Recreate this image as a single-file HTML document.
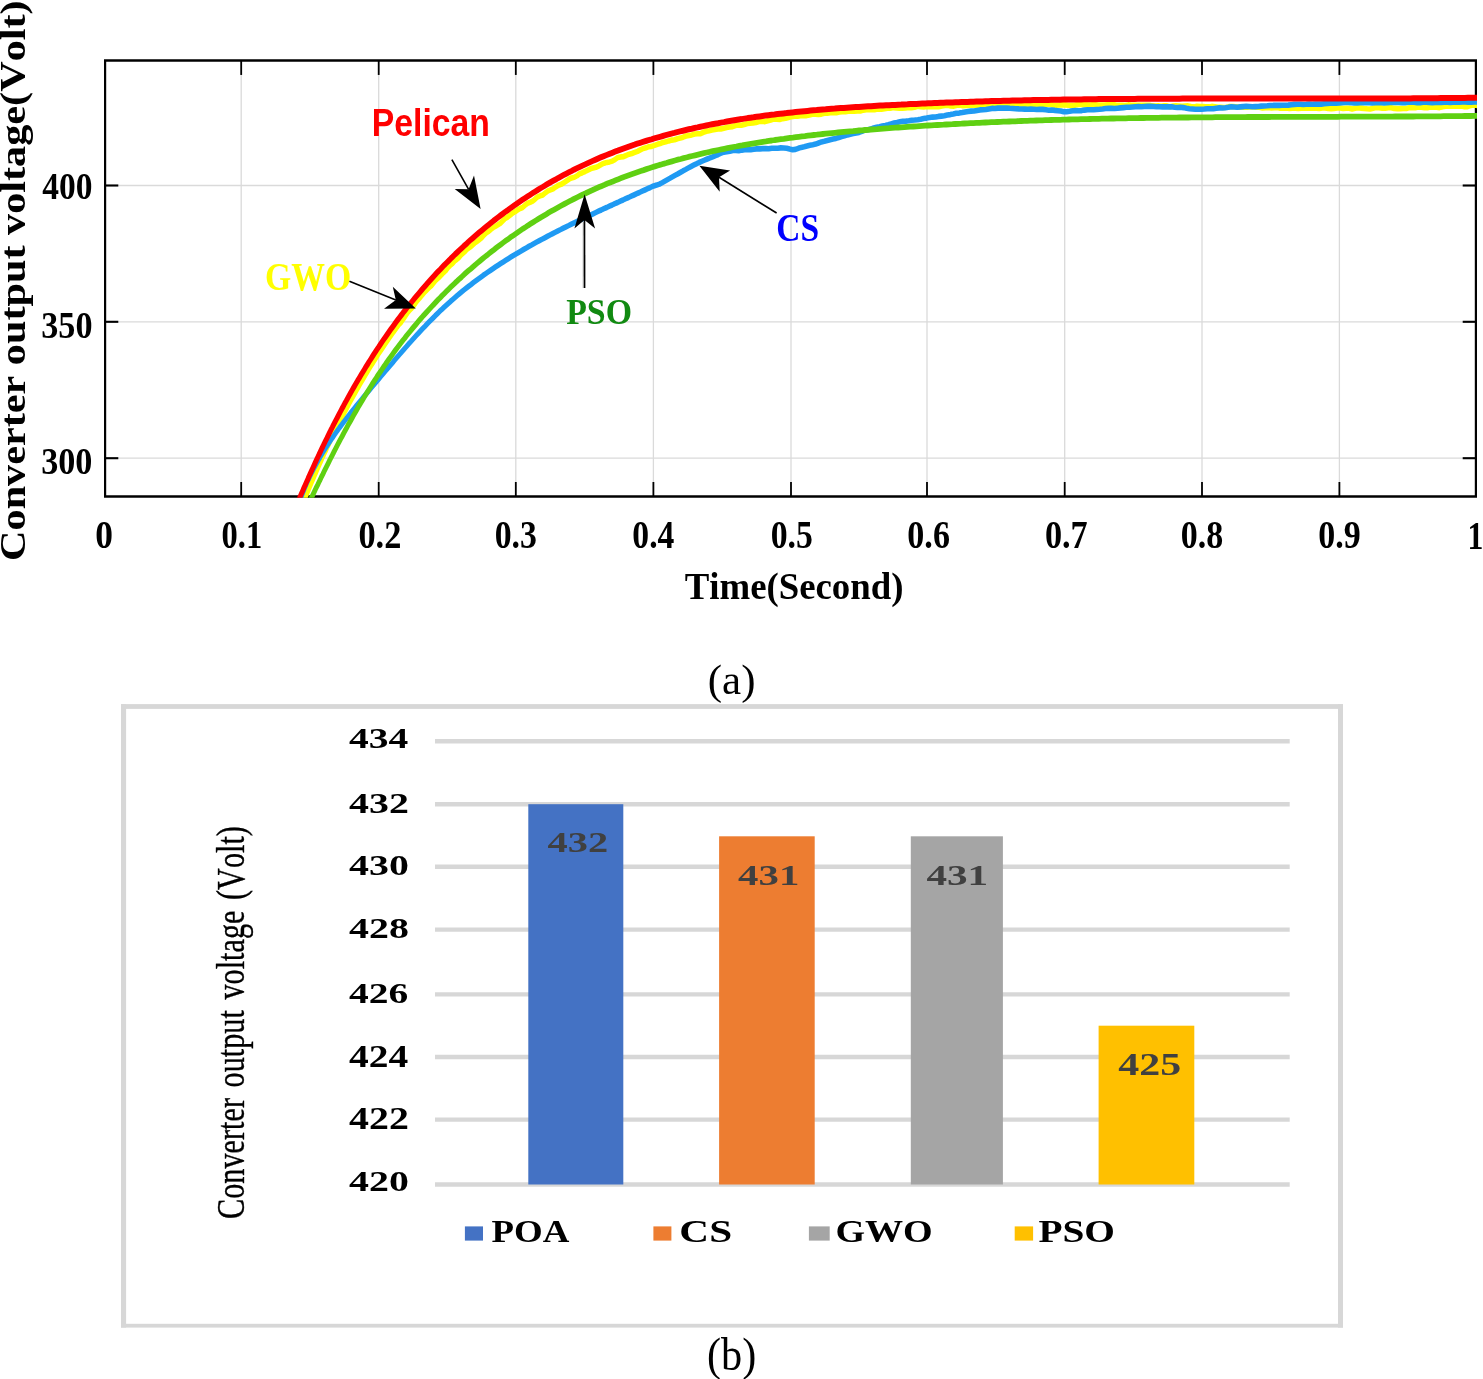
<!DOCTYPE html>
<html><head><meta charset="utf-8"><title>Figure</title>
<style>
html,body{margin:0;padding:0;background:#fff;}
body{width:1483px;height:1379px;overflow:hidden;font-family:"Liberation Serif",serif;}
svg{display:block;will-change:transform;}
text{white-space:pre;font-kerning:none;}
</style></head><body>
<svg width="1483" height="1379" viewBox="0 0 1483 1379">
<defs><clipPath id="clipA"><rect x="104.0" y="59.150000000000006" width="1373.0000000000002" height="438.65000000000003"/></clipPath></defs>
<rect x="0" y="0" width="1483" height="1379" fill="#fff"/>
<line x1="241.20" y1="60.45" x2="241.20" y2="496.50" stroke="#dadada" stroke-width="1.3"/>
<line x1="378.70" y1="60.45" x2="378.70" y2="496.50" stroke="#dadada" stroke-width="1.3"/>
<line x1="515.80" y1="60.45" x2="515.80" y2="496.50" stroke="#dadada" stroke-width="1.3"/>
<line x1="653.40" y1="60.45" x2="653.40" y2="496.50" stroke="#dadada" stroke-width="1.3"/>
<line x1="791.00" y1="60.45" x2="791.00" y2="496.50" stroke="#dadada" stroke-width="1.3"/>
<line x1="927.00" y1="60.45" x2="927.00" y2="496.50" stroke="#dadada" stroke-width="1.3"/>
<line x1="1064.70" y1="60.45" x2="1064.70" y2="496.50" stroke="#dadada" stroke-width="1.3"/>
<line x1="1202.00" y1="60.45" x2="1202.00" y2="496.50" stroke="#dadada" stroke-width="1.3"/>
<line x1="1339.40" y1="60.45" x2="1339.40" y2="496.50" stroke="#dadada" stroke-width="1.3"/>
<line x1="105.10" y1="185.50" x2="1475.90" y2="185.50" stroke="#dadada" stroke-width="1.3"/>
<line x1="105.10" y1="321.80" x2="1475.90" y2="321.80" stroke="#dadada" stroke-width="1.3"/>
<line x1="105.10" y1="458.20" x2="1475.90" y2="458.20" stroke="#dadada" stroke-width="1.3"/>
<line x1="104.00" y1="60.45" x2="1477.00" y2="60.45" stroke="#000" stroke-width="2.6"/>
<line x1="104.00" y1="496.50" x2="1477.00" y2="496.50" stroke="#000" stroke-width="2.6"/>
<line x1="105.10" y1="60.45" x2="105.10" y2="496.50" stroke="#000" stroke-width="2.2"/>
<line x1="1475.90" y1="60.45" x2="1475.90" y2="496.50" stroke="#000" stroke-width="2.2"/>
<line x1="241.20" y1="496.50" x2="241.20" y2="482.00" stroke="#000" stroke-width="1.8"/>
<line x1="241.20" y1="60.45" x2="241.20" y2="74.95" stroke="#000" stroke-width="1.8"/>
<line x1="378.70" y1="496.50" x2="378.70" y2="482.00" stroke="#000" stroke-width="1.8"/>
<line x1="378.70" y1="60.45" x2="378.70" y2="74.95" stroke="#000" stroke-width="1.8"/>
<line x1="515.80" y1="496.50" x2="515.80" y2="482.00" stroke="#000" stroke-width="1.8"/>
<line x1="515.80" y1="60.45" x2="515.80" y2="74.95" stroke="#000" stroke-width="1.8"/>
<line x1="653.40" y1="496.50" x2="653.40" y2="482.00" stroke="#000" stroke-width="1.8"/>
<line x1="653.40" y1="60.45" x2="653.40" y2="74.95" stroke="#000" stroke-width="1.8"/>
<line x1="791.00" y1="496.50" x2="791.00" y2="482.00" stroke="#000" stroke-width="1.8"/>
<line x1="791.00" y1="60.45" x2="791.00" y2="74.95" stroke="#000" stroke-width="1.8"/>
<line x1="927.00" y1="496.50" x2="927.00" y2="482.00" stroke="#000" stroke-width="1.8"/>
<line x1="927.00" y1="60.45" x2="927.00" y2="74.95" stroke="#000" stroke-width="1.8"/>
<line x1="1064.70" y1="496.50" x2="1064.70" y2="482.00" stroke="#000" stroke-width="1.8"/>
<line x1="1064.70" y1="60.45" x2="1064.70" y2="74.95" stroke="#000" stroke-width="1.8"/>
<line x1="1202.00" y1="496.50" x2="1202.00" y2="482.00" stroke="#000" stroke-width="1.8"/>
<line x1="1202.00" y1="60.45" x2="1202.00" y2="74.95" stroke="#000" stroke-width="1.8"/>
<line x1="1339.40" y1="496.50" x2="1339.40" y2="482.00" stroke="#000" stroke-width="1.8"/>
<line x1="1339.40" y1="60.45" x2="1339.40" y2="74.95" stroke="#000" stroke-width="1.8"/>
<line x1="105.10" y1="185.50" x2="118.30" y2="185.50" stroke="#000" stroke-width="2.1"/>
<line x1="1475.90" y1="185.50" x2="1462.70" y2="185.50" stroke="#000" stroke-width="2.1"/>
<line x1="105.10" y1="321.80" x2="118.30" y2="321.80" stroke="#000" stroke-width="2.1"/>
<line x1="1475.90" y1="321.80" x2="1462.70" y2="321.80" stroke="#000" stroke-width="2.1"/>
<line x1="105.10" y1="458.20" x2="118.30" y2="458.20" stroke="#000" stroke-width="2.1"/>
<line x1="1475.90" y1="458.20" x2="1462.70" y2="458.20" stroke="#000" stroke-width="2.1"/>
<g clip-path="url(#clipA)">
<polyline transform="scale(0.82,1)" points="370.6,500.9 371.9,498.2 373.3,495.4 374.7,492.7 376.1,490.0 377.5,487.3 378.9,484.5 380.3,481.8 381.7,479.1 383.1,476.4 384.6,473.7 386.0,470.9 387.5,468.2 389.0,465.5 390.4,462.8 391.9,460.1 393.4,457.3 394.9,454.6 396.5,451.9 398.0,449.2 399.5,446.5 401.1,443.8 402.7,441.1 404.2,438.4 405.8,435.7 407.4,433.0 409.0,430.3 410.7,427.6 412.3,425.0 413.9,422.3 415.6,419.6 417.3,416.9 419.0,414.3 420.6,411.6 422.4,408.9 424.1,406.3 425.8,403.6 427.5,401.0 429.3,398.4 431.1,395.7 432.9,393.1 434.6,390.5 436.5,387.9 438.3,385.2 440.1,382.6 442.0,380.0 443.8,377.5 445.7,374.9 447.6,372.3 449.5,369.7 451.4,367.1 453.4,364.6 455.3,362.0 457.3,359.5 459.2,357.0 461.2,354.4 463.2,351.9 465.3,349.4 467.3,346.9 469.3,344.4 471.4,341.9 473.5,339.4 475.6,337.0 477.7,334.5 479.8,332.0 482.0,329.6 484.2,327.2 486.3,324.7 488.5,323.1 490.7,320.2 493.0,317.8 495.2,315.1 497.5,312.3 499.7,310.2 502.0,308.3 504.4,305.9 506.7,303.1 509.0,300.6 511.4,298.5 513.8,296.1 516.2,293.7 518.6,291.5 521.0,289.5 523.5,287.6 526.0,285.7 528.4,283.2 530.9,280.7 533.5,278.8 536.0,277.0 538.6,274.7 541.1,272.5 543.7,270.5 546.3,267.7 548.9,265.5 551.6,263.7 554.2,261.2 556.9,259.6 559.5,257.7 562.2,255.1 564.9,253.0 567.7,250.9 570.4,248.6 573.2,247.3 575.9,245.4 578.7,243.2 581.5,241.5 584.3,239.8 587.2,237.9 590.0,235.2 592.8,233.0 595.7,231.6 598.6,229.4 601.5,227.6 604.4,226.2 607.3,224.7 610.2,223.2 613.2,220.8 616.2,218.3 619.1,217.1 622.1,215.2 625.1,213.1 628.1,211.8 631.1,210.1 634.2,208.6 637.2,207.5 640.3,205.2 643.3,203.3 646.4,202.4 649.5,201.2 652.6,199.1 655.7,196.8 658.8,195.8 662.0,195.0 665.1,192.8 668.3,190.9 671.4,189.9 674.6,188.8 677.8,186.9 681.0,185.3 684.2,184.4 687.4,182.9 690.7,181.0 693.9,179.2 697.1,177.9 700.4,177.3 703.7,175.8 706.9,173.7 710.2,172.7 713.5,171.5 716.8,170.1 720.1,168.8 723.4,167.9 726.7,167.3 730.1,166.1 733.4,164.4 736.8,163.2 740.1,162.4 743.5,161.9 746.8,161.1 750.2,159.4 753.6,157.4 757.0,156.9 760.4,156.7 763.8,155.3 767.2,154.2 770.6,153.5 774.1,152.4 777.5,151.4 780.9,149.9 784.4,148.5 787.8,147.8 791.3,146.7 794.7,146.4 798.2,145.4 801.7,144.3 805.1,143.5 808.6,142.4 812.1,141.8 815.6,140.9 819.1,140.1 822.6,139.7 826.1,138.7 829.6,138.1 833.1,137.2 836.6,136.0 840.2,135.4 843.7,134.9 847.2,134.0 850.7,133.8 854.3,133.7 857.8,132.3 861.4,131.2 864.9,130.7 868.4,130.1 872.0,129.5 875.6,129.0 879.1,128.9 882.7,128.2 886.2,127.4 889.8,127.0 893.4,126.6 896.9,125.5 900.5,125.0 904.1,125.3 907.7,124.6 911.3,123.5 914.9,123.1 918.4,123.0 922.0,122.5 925.6,121.5 929.2,121.3 932.8,121.6 936.4,120.7 940.0,119.9 943.7,119.1 947.3,119.1 950.9,119.4 954.5,118.6 958.1,118.2 961.7,117.4 965.4,116.6 969.0,116.3 972.6,116.2 976.2,115.7 979.9,115.6 983.5,115.6 987.1,114.9 990.8,114.3 994.4,114.2 998.1,114.5 1001.7,114.1 1005.3,113.3 1009.0,113.2 1012.6,112.8 1016.3,112.6 1019.9,112.7 1023.6,111.9 1027.2,111.6 1030.9,111.7 1034.6,111.2 1038.2,111.2 1041.9,111.1 1045.5,110.9 1049.2,111.0 1052.9,110.1 1056.5,109.7 1060.2,109.7 1063.9,109.6 1067.5,109.6 1071.2,109.1 1074.9,109.2 1078.6,108.7 1082.2,108.2 1085.9,108.3 1089.6,107.6 1093.3,107.9 1096.9,108.2 1100.6,108.1 1104.3,108.0 1108.0,107.4 1111.7,107.6 1115.3,107.2 1119.0,106.3 1122.7,106.7 1126.4,106.9 1130.1,106.4 1133.7,106.7 1137.4,106.6 1141.1,106.5 1144.8,106.7 1148.5,106.1 1152.2,105.4 1155.9,105.3 1159.5,106.0 1163.2,106.1 1166.9,105.2 1170.6,105.1 1174.3,105.7 1178.0,105.5 1181.6,105.3 1185.3,105.2 1189.0,105.3 1192.7,105.6 1196.4,104.7 1200.1,105.0 1203.8,105.3 1207.4,105.0 1211.1,105.1 1214.8,104.5 1218.5,104.1 1222.2,104.1 1225.9,104.1 1229.5,104.0 1233.2,103.9 1236.9,104.7 1240.6,104.7 1244.2,104.3 1247.9,104.3 1251.6,104.0 1255.3,104.6 1259.0,105.2 1262.6,105.0 1266.3,104.1 1270.0,104.6 1273.6,104.6 1277.3,104.1 1281.0,104.5 1284.6,105.0 1288.3,105.3 1292.0,105.0 1295.6,104.6 1299.3,104.9 1303.0,105.3 1306.6,105.4 1310.3,105.2 1313.9,104.6 1317.6,104.2 1321.3,104.6 1324.9,104.8 1328.6,105.1 1332.2,104.9 1335.9,104.8 1339.5,105.0 1343.2,105.1 1346.8,105.0 1350.5,104.7 1354.1,104.7 1357.8,104.5 1361.4,105.3 1365.1,105.4 1368.7,105.4 1372.3,105.6 1376.0,104.9 1379.6,105.2 1383.3,105.2 1386.9,105.3 1390.6,105.3 1394.2,105.2 1397.8,105.4 1401.5,105.2 1405.1,105.9 1408.8,106.1 1412.4,105.9 1416.0,106.2 1419.7,105.7 1423.3,105.9 1426.9,106.7 1430.6,106.1 1434.2,105.8 1437.9,106.0 1441.5,106.2 1445.1,106.0 1448.8,105.9 1452.4,106.6 1456.0,106.9 1459.7,106.3 1463.3,106.5 1466.9,106.6 1470.6,106.7 1474.2,106.9 1477.8,106.4 1481.5,106.7 1485.1,107.3 1488.7,107.3 1492.4,107.5 1496.0,107.2 1499.6,106.6 1503.3,106.5 1506.9,106.8 1510.5,107.1 1514.2,107.0 1517.8,107.1 1521.4,107.1 1525.1,106.7 1528.7,106.9 1532.4,107.2 1536.0,107.2 1539.6,107.9 1543.3,107.7 1546.9,107.5 1550.5,107.9 1554.2,107.6 1557.8,107.5 1561.5,108.2 1565.1,108.1 1568.7,107.9 1572.4,108.4 1576.0,108.1 1579.7,108.2 1583.3,108.5 1586.9,108.1 1590.6,108.2 1594.2,108.2 1597.9,108.2 1601.5,108.1 1605.2,108.3 1608.8,108.5 1612.5,107.9 1616.1,107.9 1619.8,108.5 1623.4,108.8 1627.1,108.4 1630.7,108.0 1634.4,107.9 1638.0,108.5 1641.7,108.3 1645.3,108.2 1649.0,108.9 1652.6,108.3 1656.3,107.8 1660.0,108.1 1663.6,108.5 1667.3,108.8 1670.9,109.0 1674.6,108.3 1678.3,107.6 1681.9,107.8 1685.6,108.1 1689.3,108.2 1692.9,107.7 1696.6,107.7 1700.3,108.4 1704.0,108.6 1707.6,108.6 1711.3,108.5 1715.0,108.5 1718.7,107.6 1722.3,107.6 1726.0,107.7 1729.7,107.1 1733.4,107.2 1737.1,107.7 1740.8,107.8 1744.5,107.1 1748.1,106.9 1751.8,107.3 1755.5,107.6 1759.2,106.8 1762.9,106.2 1766.6,106.3 1770.3,106.2 1774.0,106.3 1777.7,106.2 1781.4,106.1 1785.1,106.6 1788.9,106.7 1792.6,105.8 1796.3,105.1 1800.0,105.3 1802.9,105.6" fill="none" stroke="#ffff00" stroke-width="5.6" stroke-linejoin="round"/>
<polyline transform="scale(0.82,1)" points="365.6,501.0 366.8,498.2 368.1,495.4 369.4,492.6 370.7,489.8 372.1,487.0 373.5,484.2 375.0,481.5 376.5,478.8 378.1,476.0 379.7,473.4 381.3,470.7 383.0,468.0 384.7,465.4 386.5,462.7 388.2,460.1 390.1,457.5 391.9,454.9 393.8,452.4 395.7,449.8 397.7,447.3 399.7,444.7 401.7,442.2 403.7,439.7 405.8,437.3 407.9,434.8 410.0,432.3 412.1,429.9 414.2,427.5 416.4,425.1 418.6,422.7 420.8,420.3 423.0,417.9 425.3,415.5 427.5,413.1 429.8,410.8 432.1,408.4 434.4,406.1 436.7,403.8 439.0,401.5 441.3,399.1 443.6,396.8 446.0,394.5 448.3,392.2 450.7,389.9 453.0,387.6 455.4,385.3 457.7,383.0 460.1,380.7 462.4,378.4 464.8,376.1 467.2,373.8 469.5,371.5 471.9,369.3 474.2,367.0 476.6,364.7 479.0,362.4 481.3,360.1 483.7,357.8 486.1,355.5 488.5,353.3 490.9,351.0 493.3,348.7 495.7,346.5 498.1,344.2 500.6,342.0 503.0,339.8 505.5,337.5 507.9,335.3 510.4,333.1 512.9,330.9 515.4,328.7 517.9,326.6 520.4,324.4 523.0,322.2 525.5,320.1 528.1,318.0 530.7,315.8 533.3,313.7 535.9,311.6 538.6,309.6 541.2,307.5 543.9,305.5 546.6,303.5 549.4,301.4 552.1,299.5 554.9,297.5 557.6,295.5 560.4,293.6 563.3,291.7 566.1,289.8 569.0,287.9 571.8,286.1 574.7,284.3 577.6,282.4 580.6,280.6 583.5,278.9 586.5,277.1 589.4,275.3 592.4,273.6 595.4,271.9 598.4,270.2 601.5,268.5 604.5,266.8 607.5,265.2 610.6,263.5 613.7,261.9 616.8,260.3 619.9,258.7 623.0,257.1 626.1,255.5 629.2,254.0 632.4,252.4 635.5,250.9 638.7,249.4 641.8,247.9 645.0,246.4 648.2,245.0 651.4,243.5 654.6,242.0 657.8,240.6 661.0,239.2 664.3,237.8 667.5,236.4 670.7,235.0 674.0,233.6 677.2,232.2 680.5,230.8 683.8,229.5 687.0,228.1 690.3,226.8 693.6,225.5 696.9,224.1 700.2,222.8 703.4,221.5 706.7,220.2 710.0,218.9 713.3,217.6 716.6,216.3 720.0,215.1 723.3,213.8 726.6,212.5 729.9,211.2 733.2,210.0 736.5,208.7 739.9,207.5 743.2,206.2 746.5,205.0 749.8,203.7 753.2,202.5 756.5,201.2 759.8,200.0 763.1,198.7 766.5,197.5 769.8,196.2 773.1,195.0 776.5,193.7 779.8,192.5 783.1,191.2 786.4,190.0 789.8,188.7 793.1,187.5 796.4,186.2 797.3,185.9 800.8,185.1 804.2,184.1 807.4,182.7 810.6,181.2 813.8,179.7 817.0,178.3 820.2,176.8 823.4,175.3 826.6,173.9 829.8,172.4 832.9,170.9 836.1,169.5 839.3,168.0 842.5,166.6 845.8,165.2 849.1,163.9 852.4,162.5 855.7,161.3 859.1,160.2 862.5,159.0 865.9,157.9 869.2,156.8 872.6,155.6 876.0,154.5 879.4,153.2 882.8,152.1 886.4,151.8 890.1,151.3 893.7,150.5 897.3,150.5 900.9,150.7 904.6,150.1 908.2,149.7 911.9,149.8 915.5,149.7 919.2,149.2 922.8,148.9 926.5,148.9 930.1,148.6 933.8,148.6 937.5,148.8 941.1,148.3 944.8,148.3 948.4,148.2 952.1,147.9 955.7,148.0 959.4,148.2 962.9,149.0 966.5,149.7 970.1,149.4 973.6,148.3 977.1,147.4 980.7,146.8 984.2,146.0 987.7,145.2 991.2,144.7 994.7,144.1 998.3,143.0 1001.8,141.9 1005.3,141.3 1008.9,140.5 1012.4,139.7 1015.9,139.0 1019.5,138.4 1023.0,137.5 1026.5,136.5 1030.1,135.8 1033.6,134.9 1037.1,134.2 1040.7,133.6 1044.2,133.0 1047.7,132.4 1051.3,131.3 1054.8,130.2 1058.3,129.7 1061.9,129.1 1065.4,128.0 1068.9,127.3 1072.5,126.7 1076.0,126.0 1079.6,125.4 1083.1,124.7 1086.6,123.9 1090.2,123.1 1093.8,122.5 1097.4,121.8 1101.0,121.3 1104.7,121.1 1108.3,120.8 1111.9,120.2 1115.5,120.0 1119.2,119.7 1122.8,119.3 1126.4,118.5 1130.0,118.1 1133.7,117.6 1137.3,117.1 1140.9,117.0 1144.5,116.4 1148.1,116.1 1151.7,115.8 1155.3,115.0 1158.9,114.6 1162.5,114.0 1166.1,113.2 1169.7,113.1 1173.4,112.6 1177.0,112.0 1180.6,111.5 1184.2,111.1 1187.9,111.0 1191.5,110.4 1195.1,109.9 1198.7,109.7 1202.4,109.5 1206.0,108.9 1209.6,108.4 1213.3,108.5 1216.9,108.1 1220.6,108.1 1224.2,108.1 1227.9,108.0 1231.5,108.3 1235.2,108.5 1238.8,108.7 1242.5,108.9 1246.1,109.0 1249.8,109.1 1253.5,109.3 1257.1,109.1 1260.8,109.3 1264.4,109.5 1268.1,109.4 1271.7,109.4 1275.4,109.8 1279.0,110.2 1282.7,110.0 1286.3,110.4 1289.9,110.7 1293.6,111.0 1297.2,111.7 1300.8,111.7 1304.5,111.3 1308.1,110.7 1311.8,110.6 1315.4,110.8 1319.1,110.6 1322.7,110.1 1326.4,109.8 1330.0,109.8 1333.7,109.8 1337.3,109.5 1341.0,109.3 1344.6,109.0 1348.3,108.5 1351.9,108.3 1355.6,108.4 1359.2,108.5 1362.9,108.2 1366.5,107.9 1370.2,107.6 1373.8,107.3 1377.5,107.3 1381.1,107.0 1384.8,106.7 1388.4,106.6 1392.1,106.7 1395.7,106.5 1399.4,106.4 1403.0,106.3 1406.7,106.5 1410.4,106.7 1414.0,106.8 1417.7,106.9 1421.3,106.9 1425.0,106.9 1428.6,106.8 1432.3,107.3 1435.9,107.5 1439.6,107.2 1443.2,107.6 1446.9,108.3 1450.5,108.7 1454.2,109.0 1457.8,109.3 1461.5,109.3 1465.1,109.2 1468.7,109.0 1472.4,108.7 1476.0,108.8 1479.7,108.8 1483.3,108.2 1487.0,107.9 1490.6,108.0 1494.3,107.7 1497.9,107.3 1501.6,106.8 1505.2,107.0 1508.9,107.2 1512.5,106.9 1516.2,106.6 1519.8,106.3 1523.5,106.5 1527.2,106.8 1530.8,106.6 1534.5,106.5 1538.1,106.1 1541.8,106.0 1545.4,105.8 1549.1,105.5 1552.7,105.4 1556.4,105.2 1560.1,105.4 1563.7,105.3 1567.4,105.2 1571.0,105.1 1574.7,104.7 1578.3,104.4 1582.0,104.2 1585.6,104.2 1589.3,104.5 1593.0,104.3 1596.6,104.0 1600.3,104.2 1603.9,104.1 1607.6,104.0 1611.2,104.1 1614.9,103.7 1618.5,103.5 1622.2,103.2 1625.9,103.0 1629.5,103.3 1633.2,103.0 1636.8,102.6 1640.5,102.5 1644.1,102.5 1647.8,102.6 1651.5,102.9 1655.1,103.0 1658.8,102.8 1662.4,102.7 1666.1,102.6 1669.8,102.7 1673.4,102.9 1677.1,102.7 1680.7,102.5 1684.4,102.7 1688.0,102.9 1691.7,102.7 1695.4,102.4 1699.0,102.5 1702.7,102.4 1706.3,102.4 1710.0,102.8 1713.7,102.6 1717.3,102.3 1721.0,102.3 1724.6,102.3 1728.3,102.7 1731.9,102.7 1735.6,102.3 1739.3,102.2 1742.9,102.4 1746.6,102.6 1750.2,102.5 1753.9,102.3 1757.6,102.5 1761.2,102.3 1764.9,102.3 1768.5,102.5 1772.2,102.2 1775.9,102.3 1779.5,102.3 1783.2,102.0 1786.8,102.0 1790.5,102.2 1794.1,102.1 1797.8,102.0 1801.5,102.0 1802.4,102.1" fill="none" stroke="#1f9af3" stroke-width="5.6" stroke-linejoin="round"/>
<polyline transform="scale(0.82,1)" points="377.5,501.8 379.1,499.0 380.7,496.2 382.3,493.5 383.9,490.7 385.5,487.9 387.2,485.2 388.8,482.4 390.4,479.7 392.0,476.9 393.7,474.2 395.3,471.4 396.9,468.7 398.6,466.0 400.3,463.2 401.9,460.5 403.6,457.8 405.3,455.1 406.9,452.4 408.6,449.7 410.3,447.0 412.0,444.3 413.7,441.7 415.4,439.0 417.2,436.3 418.9,433.7 420.6,431.0 422.4,428.4 424.1,425.7 425.9,423.1 427.7,420.5 429.5,417.8 431.3,415.2 433.1,412.6 434.9,410.0 436.7,407.4 438.6,404.8 440.4,402.3 442.3,399.7 444.2,397.1 446.1,394.6 448.0,392.0 449.9,389.5 451.8,387.0 453.7,384.4 455.7,381.9 457.7,379.4 459.6,376.9 461.6,374.4 463.7,372.0 465.7,369.5 467.7,367.0 469.8,364.6 471.8,362.1 473.9,359.7 476.0,357.3 478.2,354.8 480.3,352.4 482.4,350.0 484.6,347.6 486.8,345.3 489.0,342.9 491.2,340.5 493.5,338.2 495.7,335.8 498.0,333.5 500.3,331.2 502.6,328.9 504.9,326.6 507.3,324.3 509.6,322.0 512.0,319.7 514.4,317.5 516.8,315.2 519.3,313.0 521.7,310.8 524.2,308.6 526.7,306.4 529.2,304.2 531.7,302.0 534.2,299.8 536.8,297.7 539.3,295.5 541.9,293.4 544.5,291.3 547.1,289.2 549.7,287.1 552.4,285.0 555.0,282.9 557.7,280.9 560.4,278.8 563.1,276.8 565.8,274.7 568.5,272.7 571.3,270.7 574.1,268.8 576.8,266.8 579.6,264.8 582.4,262.9 585.2,261.0 588.1,259.0 590.9,257.1 593.8,255.3 596.6,253.4 599.5,251.5 602.4,249.7 605.3,247.8 608.2,246.0 611.2,244.2 614.1,242.4 617.1,240.6 620.0,238.9 623.0,237.1 626.0,235.4 629.0,233.7 632.0,232.0 635.1,230.3 638.1,228.6 641.2,227.0 644.2,225.3 647.3,223.7 650.4,222.1 653.5,220.5 656.6,218.9 659.7,217.3 662.8,215.8 666.0,214.3 669.1,212.7 672.3,211.2 675.4,209.8 678.6,208.3 681.8,206.8 685.0,205.4 688.2,204.0 691.4,202.6 694.7,201.2 697.9,199.8 701.1,198.5 704.4,197.1 707.7,195.8 710.9,194.5 714.2,193.3 717.5,192.0 720.8,190.7 724.1,189.5 727.4,188.3 730.7,187.1 734.0,185.9 737.4,184.8 740.7,183.6 744.1,182.5 747.4,181.4 750.8,180.3 754.2,179.2 757.6,178.1 760.9,177.0 764.3,176.0 767.7,175.0 771.1,174.0 774.6,173.0 778.0,172.0 781.4,171.0 784.9,170.1 788.3,169.1 791.7,168.2 795.2,167.3 798.7,166.4 802.1,165.5 805.6,164.7 809.1,163.8 812.6,163.0 816.1,162.1 819.6,161.3 823.1,160.5 826.6,159.7 830.1,159.0 833.6,158.2 837.1,157.5 840.7,156.7 844.2,156.0 847.7,155.3 851.3,154.6 854.8,153.9 858.4,153.2 861.9,152.5 865.5,151.9 869.1,151.2 872.7,150.6 876.2,150.0 879.8,149.4 883.4,148.8 887.0,148.2 890.6,147.6 894.2,147.0 897.8,146.5 901.4,145.9 905.0,145.4 908.6,144.8 912.2,144.3 915.8,143.8 919.5,143.3 923.1,142.8 926.7,142.3 930.3,141.8 934.0,141.4 937.6,140.9 941.3,140.5 944.9,140.0 948.5,139.6 952.2,139.2 955.8,138.8 959.5,138.3 963.2,137.9 966.8,137.6 970.5,137.2 974.1,136.8 977.8,136.4 981.5,136.1 985.1,135.7 988.8,135.3 992.5,135.0 996.1,134.7 999.8,134.3 1003.5,134.0 1007.1,133.7 1010.8,133.4 1014.5,133.1 1018.2,132.8 1021.9,132.5 1025.5,132.2 1029.2,131.9 1032.9,131.6 1036.6,131.3 1040.3,131.1 1043.9,130.8 1047.6,130.5 1051.3,130.3 1055.0,130.0 1058.7,129.8 1062.3,129.5 1066.0,129.3 1069.7,129.1 1073.4,128.8 1077.1,128.6 1080.7,128.4 1084.4,128.2 1088.1,127.9 1091.8,127.7 1095.4,127.5 1099.1,127.3 1102.8,127.1 1106.5,126.9 1110.1,126.7 1113.8,126.5 1117.5,126.3 1121.1,126.1 1124.8,125.9 1128.5,125.7 1132.1,125.5 1135.8,125.4 1139.5,125.2 1143.1,125.0 1146.8,124.8 1150.5,124.7 1154.1,124.5 1157.8,124.3 1161.4,124.2 1165.1,124.0 1168.8,123.8 1172.4,123.7 1176.1,123.5 1179.7,123.4 1183.4,123.2 1187.0,123.1 1190.7,122.9 1194.4,122.8 1198.0,122.6 1201.7,122.5 1205.3,122.4 1209.0,122.2 1212.6,122.1 1216.3,122.0 1219.9,121.9 1223.6,121.7 1227.2,121.6 1230.9,121.5 1234.5,121.4 1238.2,121.3 1241.8,121.1 1245.4,121.0 1249.1,120.9 1252.7,120.8 1256.4,120.7 1260.0,120.6 1263.7,120.5 1267.3,120.4 1271.0,120.3 1274.6,120.2 1278.2,120.1 1281.9,120.0 1285.5,119.9 1289.2,119.8 1292.8,119.8 1296.4,119.7 1300.1,119.6 1303.7,119.5 1307.4,119.4 1311.0,119.4 1314.6,119.3 1318.3,119.2 1321.9,119.1 1325.6,119.1 1329.2,119.0 1332.8,118.9 1336.5,118.9 1340.1,118.8 1343.7,118.7 1347.4,118.7 1351.0,118.6 1354.7,118.5 1358.3,118.5 1361.9,118.4 1365.6,118.4 1369.2,118.3 1372.8,118.3 1376.5,118.2 1380.1,118.2 1383.8,118.1 1387.4,118.1 1391.0,118.0 1394.7,118.0 1398.3,117.9 1401.9,117.9 1405.6,117.9 1409.2,117.8 1412.8,117.8 1416.5,117.7 1420.1,117.7 1423.8,117.7 1427.4,117.6 1431.0,117.6 1434.7,117.6 1438.3,117.5 1441.9,117.5 1445.6,117.5 1449.2,117.5 1452.9,117.4 1456.5,117.4 1460.1,117.4 1463.8,117.3 1467.4,117.3 1471.1,117.3 1474.7,117.3 1478.3,117.3 1482.0,117.2 1485.6,117.2 1489.3,117.2 1492.9,117.2 1496.5,117.2 1500.2,117.1 1503.8,117.1 1507.5,117.1 1511.1,117.1 1514.8,117.1 1518.4,117.1 1522.0,117.0 1525.7,117.0 1529.3,117.0 1533.0,117.0 1536.6,117.0 1540.3,117.0 1543.9,117.0 1547.6,117.0 1551.2,116.9 1554.9,116.9 1558.5,116.9 1562.2,116.9 1565.8,116.9 1569.5,116.9 1573.1,116.9 1576.8,116.9 1580.4,116.9 1584.1,116.9 1587.7,116.9 1591.4,116.8 1595.0,116.8 1598.7,116.8 1602.4,116.8 1606.0,116.8 1609.7,116.8 1613.3,116.8 1617.0,116.8 1620.6,116.8 1624.3,116.8 1628.0,116.8 1631.6,116.8 1635.3,116.7 1639.0,116.7 1642.6,116.7 1646.3,116.7 1650.0,116.7 1653.6,116.7 1657.3,116.7 1661.0,116.7 1664.6,116.7 1668.3,116.7 1672.0,116.6 1675.7,116.6 1679.3,116.6 1683.0,116.6 1686.7,116.6 1690.4,116.6 1694.0,116.6 1697.7,116.6 1701.4,116.5 1705.1,116.5 1708.8,116.5 1712.4,116.5 1716.1,116.5 1719.8,116.5 1723.5,116.5 1727.2,116.4 1730.9,116.4 1734.6,116.4 1738.2,116.4 1741.9,116.4 1745.6,116.3 1749.3,116.3 1753.0,116.3 1756.7,116.3 1760.4,116.2 1764.1,116.2 1767.8,116.2 1771.5,116.2 1775.2,116.1 1778.9,116.1 1782.6,116.1 1786.3,116.0 1790.0,116.0 1793.7,116.0 1797.5,115.9 1801.2,115.9 1803.0,115.9" fill="none" stroke="#5fd012" stroke-width="5.8" stroke-linejoin="round"/>
<polyline transform="scale(0.82,1)" points="363.7,501.2 365.2,498.4 366.6,495.7 368.0,492.9 369.5,490.2 370.9,487.4 372.4,484.7 373.9,481.9 375.4,479.2 376.8,476.4 378.3,473.7 379.8,471.0 381.4,468.2 382.9,465.5 384.4,462.8 385.9,460.0 387.5,457.3 389.0,454.6 390.6,451.9 392.2,449.1 393.8,446.4 395.3,443.7 396.9,441.0 398.6,438.3 400.2,435.6 401.8,432.9 403.4,430.2 405.1,427.5 406.7,424.8 408.4,422.2 410.1,419.5 411.8,416.8 413.5,414.2 415.2,411.5 416.9,408.8 418.7,406.2 420.4,403.5 422.2,400.9 423.9,398.3 425.7,395.6 427.5,393.0 429.3,390.4 431.1,387.8 432.9,385.2 434.8,382.6 436.6,380.0 438.5,377.4 440.4,374.8 442.3,372.2 444.2,369.7 446.1,367.1 448.0,364.6 449.9,362.0 451.9,359.5 453.9,356.9 455.8,354.4 457.8,351.9 459.8,349.4 461.9,346.9 463.9,344.4 465.9,341.9 468.0,339.4 470.1,337.0 472.2,334.5 474.3,332.0 476.4,329.6 478.5,327.2 480.7,324.7 482.8,322.3 485.0,319.9 487.2,317.5 489.4,315.1 491.6,312.7 493.9,310.4 496.1,308.0 498.4,305.7 500.7,303.3 503.0,301.0 505.3,298.7 507.6,296.4 510.0,294.1 512.3,291.8 514.7,289.5 517.1,287.2 519.5,285.0 521.9,282.7 524.3,280.5 526.8,278.2 529.3,276.0 531.7,273.8 534.2,271.6 536.8,269.5 539.3,267.3 541.8,265.1 544.4,263.0 547.0,260.9 549.6,258.7 552.2,256.6 554.8,254.5 557.4,252.5 560.1,250.4 562.8,248.3 565.4,246.3 568.2,244.3 570.9,242.2 573.6,240.2 576.4,238.2 579.1,236.3 581.9,234.3 584.7,232.3 587.5,230.4 590.3,228.5 593.2,226.6 596.0,224.7 598.9,222.8 601.7,220.9 604.6,219.1 607.5,217.3 610.5,215.4 613.4,213.6 616.3,211.8 619.3,210.1 622.3,208.3 625.2,206.6 628.2,204.8 631.2,203.1 634.3,201.4 637.3,199.7 640.3,198.1 643.4,196.4 646.5,194.8 649.5,193.2 652.6,191.6 655.7,190.0 658.8,188.4 662.0,186.9 665.1,185.3 668.2,183.8 671.4,182.3 674.6,180.8 677.7,179.4 680.9,177.9 684.1,176.5 687.3,175.1 690.5,173.7 693.8,172.3 697.0,171.0 700.2,169.6 703.5,168.3 706.8,167.0 710.0,165.7 713.3,164.5 716.6,163.2 719.9,162.0 723.2,160.8 726.5,159.6 729.8,158.4 733.2,157.2 736.5,156.1 739.8,155.0 743.2,153.9 746.6,152.8 749.9,151.7 753.3,150.7 756.7,149.6 760.1,148.6 763.5,147.6 766.9,146.6 770.3,145.6 773.7,144.7 777.1,143.7 780.6,142.8 784.0,141.9 787.5,141.0 790.9,140.1 794.4,139.3 797.9,138.4 801.3,137.6 804.8,136.8 808.3,136.0 811.8,135.2 815.3,134.4 818.8,133.6 822.3,132.9 825.8,132.1 829.3,131.4 832.9,130.7 836.4,130.0 839.9,129.3 843.5,128.7 847.0,128.0 850.6,127.4 854.1,126.7 857.7,126.1 861.3,125.5 864.8,124.9 868.4,124.3 872.0,123.7 875.6,123.2 879.2,122.6 882.8,122.1 886.4,121.5 890.0,121.0 893.6,120.5 897.2,120.0 900.8,119.5 904.4,119.1 908.0,118.6 911.7,118.1 915.3,117.7 918.9,117.3 922.6,116.8 926.2,116.4 929.8,116.0 933.5,115.6 937.1,115.2 940.8,114.8 944.4,114.5 948.1,114.1 951.7,113.7 955.4,113.4 959.1,113.1 962.7,112.7 966.4,112.4 970.1,112.1 973.7,111.8 977.4,111.5 981.1,111.2 984.7,110.9 988.4,110.6 992.1,110.3 995.8,110.1 999.5,109.8 1003.1,109.5 1006.8,109.3 1010.5,109.0 1014.2,108.8 1017.9,108.6 1021.6,108.3 1025.3,108.1 1028.9,107.9 1032.6,107.7 1036.3,107.5 1040.0,107.3 1043.7,107.1 1047.4,106.9 1051.1,106.7 1054.8,106.5 1058.5,106.3 1062.1,106.2 1065.8,106.0 1069.5,105.8 1073.2,105.6 1076.9,105.5 1080.6,105.3 1084.3,105.2 1087.9,105.0 1091.6,104.9 1095.3,104.7 1099.0,104.6 1102.7,104.4 1106.4,104.3 1110.0,104.1 1113.7,104.0 1117.4,103.9 1121.1,103.7 1124.7,103.6 1128.4,103.5 1132.1,103.3 1135.8,103.2 1139.4,103.1 1143.1,103.0 1146.8,102.8 1150.4,102.7 1154.1,102.6 1157.8,102.5 1161.4,102.4 1165.1,102.3 1168.8,102.2 1172.4,102.1 1176.1,102.0 1179.7,101.9 1183.4,101.8 1187.1,101.7 1190.7,101.6 1194.4,101.5 1198.0,101.4 1201.7,101.3 1205.3,101.2 1209.0,101.1 1212.7,101.1 1216.3,101.0 1220.0,100.9 1223.6,100.8 1227.3,100.7 1230.9,100.7 1234.6,100.6 1238.2,100.5 1241.9,100.5 1245.5,100.4 1249.2,100.3 1252.8,100.3 1256.5,100.2 1260.1,100.1 1263.7,100.1 1267.4,100.0 1271.0,100.0 1274.7,99.9 1278.3,99.9 1282.0,99.8 1285.6,99.8 1289.3,99.7 1292.9,99.7 1296.5,99.6 1300.2,99.6 1303.8,99.5 1307.5,99.5 1311.1,99.4 1314.8,99.4 1318.4,99.4 1322.0,99.3 1325.7,99.3 1329.3,99.2 1332.9,99.2 1336.6,99.2 1340.2,99.1 1343.9,99.1 1347.5,99.1 1351.1,99.1 1354.8,99.0 1358.4,99.0 1362.1,99.0 1365.7,99.0 1369.3,98.9 1373.0,98.9 1376.6,98.9 1380.2,98.9 1383.9,98.9 1387.5,98.8 1391.2,98.8 1394.8,98.8 1398.4,98.8 1402.1,98.8 1405.7,98.8 1409.3,98.7 1413.0,98.7 1416.6,98.7 1420.2,98.7 1423.9,98.7 1427.5,98.7 1431.2,98.7 1434.8,98.7 1438.4,98.7 1442.1,98.6 1445.7,98.6 1449.3,98.6 1453.0,98.6 1456.6,98.6 1460.3,98.6 1463.9,98.6 1467.5,98.6 1471.2,98.6 1474.8,98.6 1478.5,98.6 1482.1,98.6 1485.7,98.6 1489.4,98.6 1493.0,98.6 1496.7,98.6 1500.3,98.6 1503.9,98.6 1507.6,98.6 1511.2,98.6 1514.9,98.6 1518.5,98.6 1522.2,98.6 1525.8,98.6 1529.4,98.6 1533.1,98.6 1536.7,98.6 1540.4,98.6 1544.0,98.6 1547.7,98.6 1551.3,98.6 1555.0,98.6 1558.6,98.6 1562.3,98.6 1565.9,98.6 1569.6,98.6 1573.2,98.6 1576.9,98.6 1580.5,98.6 1584.2,98.6 1587.8,98.6 1591.5,98.6 1595.1,98.6 1598.8,98.6 1602.4,98.6 1606.1,98.6 1609.8,98.6 1613.4,98.6 1617.1,98.6 1620.7,98.6 1624.4,98.6 1628.1,98.6 1631.7,98.6 1635.4,98.6 1639.0,98.6 1642.7,98.6 1646.4,98.6 1650.0,98.6 1653.7,98.6 1657.4,98.6 1661.0,98.6 1664.7,98.6 1668.4,98.6 1672.0,98.5 1675.7,98.5 1679.4,98.5 1683.1,98.5 1686.7,98.5 1690.4,98.5 1694.1,98.5 1697.8,98.5 1701.5,98.5 1705.1,98.4 1708.8,98.4 1712.5,98.4 1716.2,98.4 1719.9,98.4 1723.5,98.3 1727.2,98.3 1730.9,98.3 1734.6,98.3 1738.3,98.3 1742.0,98.2 1745.7,98.2 1749.4,98.2 1753.1,98.2 1756.8,98.1 1760.5,98.1 1764.2,98.1 1767.9,98.0 1771.6,98.0 1775.3,98.0 1779.0,97.9 1782.7,97.9 1786.4,97.9 1790.1,97.8 1793.8,97.8 1797.5,97.8 1801.2,97.7 1803.0,97.7" fill="none" stroke="#ff0000" stroke-width="6.0" stroke-linejoin="round"/>
</g>
<line x1="451.90" y1="159.60" x2="468.60" y2="189.30" stroke="#000" stroke-width="1.6"/>
<polygon points="480.6,209.1 454.7,189.1 468.6,189.3 474.0,175.4" fill="#000"/>
<line x1="349.40" y1="281.20" x2="395.80" y2="300.00" stroke="#000" stroke-width="1.6"/>
<polygon points="415.8,308.5 392.8,286.7 395.8,300.0 384.0,308.7" fill="#000"/>
<line x1="583.30" y1="222.00" x2="583.30" y2="287.90" stroke="#bdbdbd" stroke-width="1.3"/>
<line x1="584.60" y1="287.90" x2="584.50" y2="220.10" stroke="#000" stroke-width="1.6"/>
<polygon points="584.6,194.2 574.4,228.5 584.5,220.1 595.1,228.5" fill="#000"/>
<line x1="776.60" y1="213.00" x2="719.00" y2="177.30" stroke="#000" stroke-width="1.6"/>
<polygon points="699.4,165.8 730.1,170.6 719.0,177.3 719.7,191.7" fill="#000"/>
<text transform="translate(371.79,136.20) scale(0.8847,1)" font-family="Liberation Sans" font-weight="bold" font-size="38.13" fill="#ff0000">Pelican</text>
<text transform="translate(265.12,290.18) scale(0.8510,1)" font-family="Liberation Serif" font-weight="bold" font-size="39.56" fill="#ffff00">GWO</text>
<text transform="translate(566.17,324.23) scale(0.9304,1)" font-family="Liberation Serif" font-weight="bold" font-size="36.36" fill="#118a11">PSO</text>
<text transform="translate(776.33,240.96) scale(0.8226,1)" font-family="Liberation Serif" font-weight="bold" font-size="40.73" fill="#0000ff">CS</text>
<text transform="translate(95.29,547.88) scale(0.8857,1)" font-family="Liberation Serif" font-weight="bold" font-size="40.00" fill="#000">0</text>
<text transform="translate(221.58,547.88) scale(0.8128,1)" font-family="Liberation Serif" font-weight="bold" font-size="40.00" fill="#000">0.1</text>
<text transform="translate(358.43,547.88) scale(0.8589,1)" font-family="Liberation Serif" font-weight="bold" font-size="40.00" fill="#000">0.2</text>
<text transform="translate(494.64,547.88) scale(0.8442,1)" font-family="Liberation Serif" font-weight="bold" font-size="40.00" fill="#000">0.3</text>
<text transform="translate(632.35,547.88) scale(0.8416,1)" font-family="Liberation Serif" font-weight="bold" font-size="40.00" fill="#000">0.4</text>
<text transform="translate(770.64,547.88) scale(0.8442,1)" font-family="Liberation Serif" font-weight="bold" font-size="40.00" fill="#000">0.5</text>
<text transform="translate(907.34,547.88) scale(0.8519,1)" font-family="Liberation Serif" font-weight="bold" font-size="40.00" fill="#000">0.6</text>
<text transform="translate(1044.93,547.88) scale(0.8561,1)" font-family="Liberation Serif" font-weight="bold" font-size="40.00" fill="#000">0.7</text>
<text transform="translate(1180.84,547.88) scale(0.8484,1)" font-family="Liberation Serif" font-weight="bold" font-size="40.00" fill="#000">0.8</text>
<text transform="translate(1318.24,547.88) scale(0.8484,1)" font-family="Liberation Serif" font-weight="bold" font-size="40.00" fill="#000">0.9</text>
<text transform="translate(1467.62,548.50) scale(0.7753,1)" font-family="Liberation Serif" font-weight="bold" font-size="40.93" fill="#000">1</text>
<text transform="translate(42.30,199.29) scale(0.8576,1)" font-family="Liberation Serif" font-weight="bold" font-size="38.98" fill="#000">400</text>
<text transform="translate(41.23,337.80) scale(0.8895,1)" font-family="Liberation Serif" font-weight="bold" font-size="38.40" fill="#000">350</text>
<text transform="translate(41.23,474.49) scale(0.8762,1)" font-family="Liberation Serif" font-weight="bold" font-size="38.98" fill="#000">300</text>
<text transform="translate(684.72,598.58) scale(0.9559,1)" font-family="Liberation Serif" font-weight="bold" font-size="38.51" fill="#000">Time(Second)</text>
<text transform="translate(25.08,560.98) rotate(-90) scale(1.1614,1)" font-family="Liberation Serif" font-weight="bold" font-size="36.37" fill="#000">Converter output voltage(Volt)</text>
<text transform="translate(707.76,693.59) scale(1.0211,1)" font-family="Liberation Serif" font-weight="normal" font-size="42.09" fill="#000">(a)</text>
<text transform="translate(706.98,1370.46) scale(0.9204,1)" font-family="Liberation Serif" font-weight="normal" font-size="45.88" fill="#000">(b)</text>
<rect x="121.0" y="704.1" width="1222.0" height="4.8" fill="#d7d7d7"/>
<rect x="121.0" y="1323.8" width="1222.0" height="3.8" fill="#d7d7d7"/>
<rect x="121.0" y="704.1" width="5.1" height="623.5" fill="#d7d7d7"/>
<rect x="1338.0" y="704.1" width="5.0" height="623.5" fill="#d7d7d7"/>
<line x1="435.00" y1="741.30" x2="1289.70" y2="741.30" stroke="#d7d7d7" stroke-width="4.4"/>
<line x1="435.00" y1="804.20" x2="1289.70" y2="804.20" stroke="#d7d7d7" stroke-width="4.4"/>
<line x1="435.00" y1="866.80" x2="1289.70" y2="866.80" stroke="#d7d7d7" stroke-width="4.4"/>
<line x1="435.00" y1="929.60" x2="1289.70" y2="929.60" stroke="#d7d7d7" stroke-width="4.4"/>
<line x1="435.00" y1="994.40" x2="1289.70" y2="994.40" stroke="#d7d7d7" stroke-width="4.4"/>
<line x1="435.00" y1="1057.00" x2="1289.70" y2="1057.00" stroke="#d7d7d7" stroke-width="4.4"/>
<line x1="435.00" y1="1119.60" x2="1289.70" y2="1119.60" stroke="#d7d7d7" stroke-width="4.4"/>
<line x1="435.00" y1="1184.50" x2="1289.70" y2="1184.50" stroke="#d7d7d7" stroke-width="4.4"/>
<rect x="528.3" y="804.2" width="95.0" height="380.3" fill="#4472c4"/>
<rect x="719.1" y="836.3" width="95.6" height="348.2" fill="#ed7d31"/>
<rect x="910.8" y="836.3" width="92.1" height="348.2" fill="#a5a5a5"/>
<rect x="1098.6" y="1025.7" width="95.7" height="158.8" fill="#ffc000"/>
<text transform="translate(349.00,748.23) scale(1.3175,1)" font-family="Liberation Serif" font-weight="bold" font-size="29.96" fill="#000">434</text>
<text transform="translate(349.00,812.73) scale(1.3315,1)" font-family="Liberation Serif" font-weight="bold" font-size="29.96" fill="#000">432</text>
<text transform="translate(349.00,875.33) scale(1.3315,1)" font-family="Liberation Serif" font-weight="bold" font-size="29.96" fill="#000">430</text>
<text transform="translate(349.00,938.43) scale(1.3315,1)" font-family="Liberation Serif" font-weight="bold" font-size="29.96" fill="#000">428</text>
<text transform="translate(349.00,1003.03) scale(1.3175,1)" font-family="Liberation Serif" font-weight="bold" font-size="29.96" fill="#000">426</text>
<text transform="translate(349.00,1066.90) scale(1.2876,1)" font-family="Liberation Serif" font-weight="bold" font-size="30.66" fill="#000">424</text>
<text transform="translate(349.00,1129.10) scale(1.3013,1)" font-family="Liberation Serif" font-weight="bold" font-size="30.66" fill="#000">422</text>
<text transform="translate(349.00,1191.33) scale(1.3315,1)" font-family="Liberation Serif" font-weight="bold" font-size="29.96" fill="#000">420</text>
<text transform="translate(547.60,852.43) scale(1.3409,1)" font-family="Liberation Serif" font-weight="bold" font-size="30.11" fill="#404040">432</text>
<text transform="translate(738.10,885.13) scale(1.3488,1)" font-family="Liberation Serif" font-weight="bold" font-size="30.25" fill="#404040">431</text>
<text transform="translate(926.40,885.33) scale(1.3602,1)" font-family="Liberation Serif" font-weight="bold" font-size="30.25" fill="#404040">431</text>
<text transform="translate(1118.20,1075.32) scale(1.3601,1)" font-family="Liberation Serif" font-weight="bold" font-size="30.84" fill="#404040">425</text>
<text transform="translate(244.04,1218.95) rotate(-90) scale(0.7639,1)" font-family="Liberation Serif" font-weight="normal" font-size="39.59" fill="#000" stroke="#000" stroke-width="0.35" word-spacing="4">Converter output voltage (Volt)</text>
<rect x="464.9" y="1226.4" width="18.1" height="14.2" fill="#4472c4"/>
<rect x="653.4" y="1226.4" width="18.0" height="14.2" fill="#ed7d31"/>
<rect x="808.9" y="1226.4" width="20.8" height="14.2" fill="#a5a5a5"/>
<rect x="1014.7" y="1226.4" width="18.4" height="14.2" fill="#ffc000"/>
<text transform="translate(491.42,1242.32) scale(1.2025,1)" font-family="Liberation Serif" font-weight="bold" font-size="30.69" fill="#000">POA</text>
<text transform="translate(679.37,1242.32) scale(1.3434,1)" font-family="Liberation Serif" font-weight="bold" font-size="30.69" fill="#000">CS</text>
<text transform="translate(835.41,1242.32) scale(1.2410,1)" font-family="Liberation Serif" font-weight="bold" font-size="30.69" fill="#000">GWO</text>
<text transform="translate(1038.38,1242.32) scale(1.2838,1)" font-family="Liberation Serif" font-weight="bold" font-size="30.69" fill="#000">PSO</text>
</svg>
</body></html>
